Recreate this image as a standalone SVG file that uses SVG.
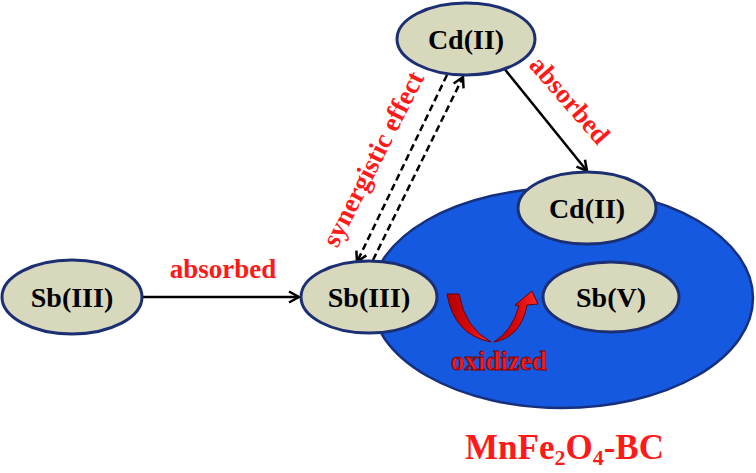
<svg xmlns="http://www.w3.org/2000/svg" width="756" height="473" viewBox="0 0 756 473">
<defs>
<style>
.node{fill:#d8d8bd;stroke:#1c2f72;stroke-width:3}
.nt{font-family:"Liberation Serif","Times New Roman","DejaVu Serif",serif;font-weight:bold;font-size:28px;fill:#000;text-anchor:middle}
.lbl{font-family:"Liberation Serif","Times New Roman","DejaVu Serif",serif;font-weight:bold;font-size:27px;fill:#ff1a1a;text-anchor:middle}
.solid{stroke:#000;stroke-width:2.5;fill:none;marker-end:url(#ah)}
.dash{stroke:#000;stroke-width:2.5;fill:none;stroke-dasharray:7 4;marker-end:url(#ah)}
</style>
<marker id="ah" viewBox="0 0 14 14" refX="12" refY="7" markerWidth="14" markerHeight="14" markerUnits="userSpaceOnUse" orient="auto">
<path d="M2,1.5 L12,7 L2,12.5" fill="none" stroke="#000" stroke-width="2.5"/>
</marker>
<linearGradient id="rg" x1="0" y1="0" x2="1" y2="0">
<stop offset="0" stop-color="#b00000"/>
<stop offset="0.5" stop-color="#d80808"/>
<stop offset="1" stop-color="#ff2a2a"/>
</linearGradient>
</defs>
<rect width="756" height="473" fill="#fff"/>
<g id="substrate">
<ellipse cx="562" cy="298" rx="191" ry="110" fill="#1459e0" stroke="#16307e" stroke-width="2.5"/>
</g>
<g id="connectors">
<line class="solid" x1="142" y1="297" x2="299" y2="297"/>
<line class="solid" x1="503" y1="67" x2="587" y2="171"/>
<line class="dash" x1="447" y1="75" x2="357" y2="262"/>
<line class="dash" x1="373" y1="260" x2="463" y2="77"/>
</g>
<g id="oxidized-arrow">
<path d="M447,294 L459,294 Q465,328 491,342 Q454,335 447,294 Z" fill="url(#rg)" stroke="#6a0000" stroke-width="1"/>
<path d="M494,342 Q521,337 527,305 L538,304 L532,291 L515,305 L519,306 Q512,331 494,342 Z" fill="url(#rg)" stroke="#6a0000" stroke-width="1"/>
</g>
<g id="node-cd-top">
<ellipse class="node" cx="466" cy="39" rx="69" ry="36"/>
<text class="nt" x="466" y="49">Cd(II)</text>
</g>
<g id="node-cd-right">
<ellipse class="node" cx="587" cy="208" rx="69" ry="36"/>
<text class="nt" x="587" y="218">Cd(II)</text>
</g>
<g id="node-sb-left">
<ellipse class="node" cx="72" cy="297" rx="70" ry="37"/>
<text class="nt" x="72" y="307">Sb(III)</text>
</g>
<g id="node-sb-mid">
<ellipse class="node" cx="369" cy="297" rx="68" ry="36"/>
<text class="nt" x="369" y="307">Sb(III)</text>
</g>
<g id="node-sbv">
<ellipse class="node" cx="611" cy="297" rx="68" ry="35"/>
<text class="nt" x="611" y="307">Sb(V)</text>
</g>
<g id="labels">
<text class="lbl" x="223" y="278">absorbed</text>
<text class="lbl" transform="translate(563,106) rotate(49)" x="0" y="0">absorbed</text>
<text class="lbl" transform="translate(381,163) rotate(-63)" x="0" y="0">synergistic effect</text>
<text class="lbl" x="499" y="370" font-size="28" stroke="#7a0000" stroke-width="0.8">oxidized</text>
<text x="465" y="459" font-family="Liberation Serif, Times New Roman, DejaVu Serif, serif" font-weight="bold" font-size="35" fill="#ff1a1a">MnFe<tspan font-size="22" dy="6">2</tspan><tspan dy="-6">O</tspan><tspan font-size="22" dy="6">4</tspan><tspan dy="-6">-BC</tspan></text>
</g>
</svg>
